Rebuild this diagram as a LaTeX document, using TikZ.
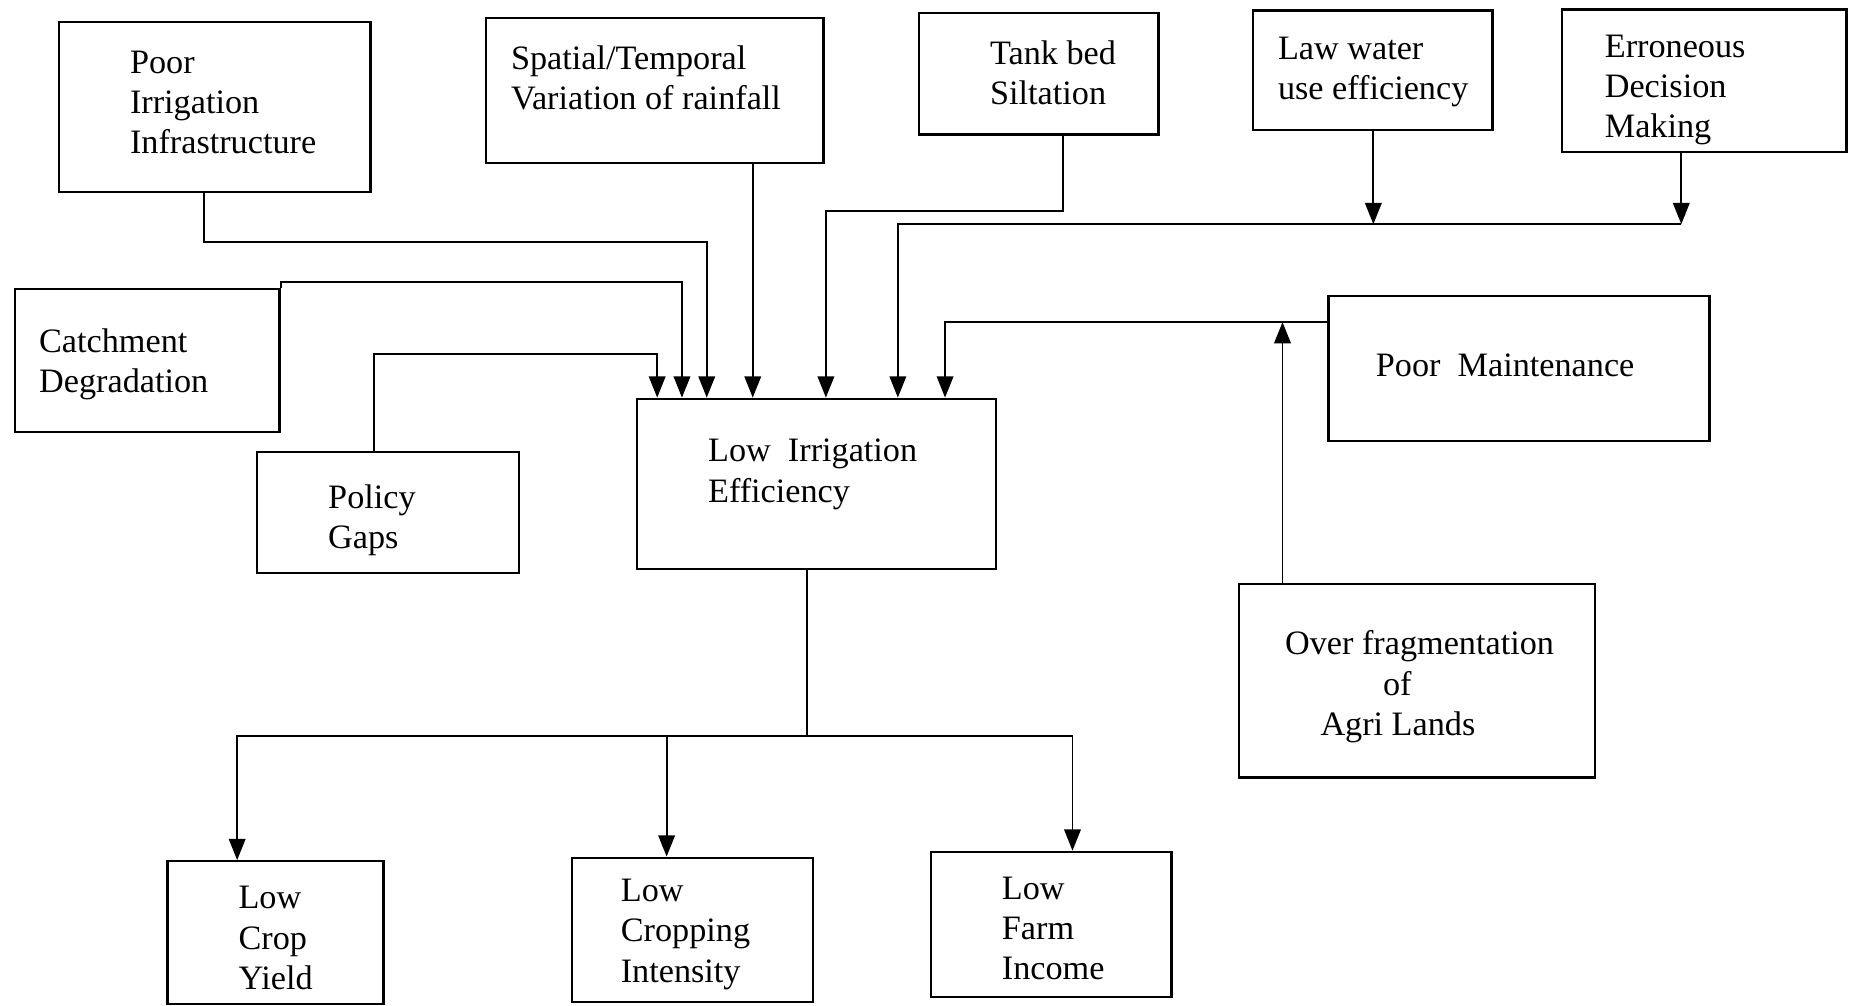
\documentclass[tikz,border=0pt]{standalone}
\usepackage{fontspec}
\setmainfont{Liberation Serif}
\usetikzlibrary{arrows.meta}
\begin{document}
\begin{tikzpicture}[x=1pt,y=-1pt,
 box/.style={draw, line width=1.9pt, inner sep=0pt, anchor=north west},
 txt/.style={inner sep=0pt, anchor=west, align=left, font=\fontsize{29}{34}\selectfont},
 conn/.style={line width=1.6pt},
 arr/.style={conn, -{Triangle[length=18pt,width=14pt]}}]
\useasboundingbox (0,0) rectangle (1568,852);
% boxes
\node[box, minimum width=264pt, minimum height=144pt] (poor) at (49,18) {};
\node[box, minimum width=286pt, minimum height=123pt] (spat) at (411,14) {};
\node[box, minimum width=203pt, minimum height=103pt] (tank) at (778,10) {};
\node[box, minimum width=203pt, minimum height=101pt] (law) at (1061,8) {};
\node[box, minimum width=241pt, minimum height=121pt] (err) at (1323,7) {};
\node[box, minimum width=224pt, minimum height=121pt] (cat) at (12,244) {};
\node[box, minimum width=222pt, minimum height=103pt] (pol) at (217,382) {};
\node[box, minimum width=304pt, minimum height=144pt] (lie) at (539,337) {};
\node[box, minimum width=323pt, minimum height=123pt] (pm) at (1125,250) {};
\node[box, minimum width=302pt, minimum height=164pt] (ofr) at (1049,494) {};
\node[box, minimum width=183pt, minimum height=121pt] (lcy) at (141,729) {};
\node[box, minimum width=204pt, minimum height=122pt] (lci) at (484,726) {};
\node[box, minimum width=204pt, minimum height=123pt] (lfi) at (788,721) {};
% texts
\node[txt] (tpoor) at (110,87) {Poor\\Irrigation\\Infrastructure};
\node[txt] (tspat) at (433,66) {Spatial/Temporal\\Variation of rainfall};
\node[txt] (ttank) at (839,62) {Tank bed\\Siltation};
\node[txt] (tlaw) at (1083,61) {Law water\\use efficiency};
\node[txt] (terr) at (1360,76) {Erroneous\\Decision\\Making};
\node[txt] (tcat) at (33,309) {Catchment\\Degradation};
\node[txt] (tpol) at (278,441) {Policy\\Gaps};
\node[txt] (tlie) at (600,402) {Low\ \ Irrigation\\Efficiency};
\node[txt] (tpm) at (1166,310) {Poor\ \ Maintenance};
\node[txt] (tofr) at (1089,582) {Over fragmentation\\\hspace*{83pt}of\\\hspace*{30pt}Agri Lands};
\node[txt] (tlcy) at (202,795) {Low\\Crop\\Yield};
\node[txt] (tlci) at (526,792) {Low\\Cropping\\Intensity};
\node[txt] (tlfi) at (849,787) {Low\\Farm\\Income};
% connectors into Low Irrigation Efficiency
\draw[arr] ([xshift=124pt]poor.south west) -- ++(0,41) -| ([xshift=60pt]lie.north west);
\draw[arr] (cat.north east) -- ++(0,-5) -| ([xshift=39pt]lie.north west);
\draw[arr] ([xshift=100pt]pol.north west) -- ++(0,-82) -| ([xshift=18pt]lie.north west);
\draw[arr] ([xshift=227pt]spat.south west) -- ([xshift=99pt]lie.north west);
\draw[arr] ([xshift=123pt]tank.south west) -- ++(0,64) -| ([xshift=161pt]lie.north west);
\coordinate (lawb) at ([xshift=103pt]law.south west);
\coordinate (errb) at ([xshift=102pt]err.south west);
\coordinate (jr) at (1425,190);
\draw[arr] (errb) -- (errb |- jr);
\draw[arr] (lawb) -- (lawb |- jr);
\draw[arr] (errb |- jr) -| ([xshift=222pt]lie.north west);
\coordinate (pmj) at ([yshift=-23pt]pm.north west);
\draw[arr] (pmj) -| ([xshift=262pt]lie.north west);
\coordinate (ofrt) at ([xshift=38pt]ofr.north west);
\draw[arr] (ofrt) -- (ofrt |- pmj);
% outputs
\coordinate (lieb) at ([xshift=145pt]lie.south west);
\draw[conn] (lieb) -- ++(0,141) coordinate (sp);
\draw[arr] (sp) -| ([xshift=60pt]lcy.north west);
\draw[arr] (sp) -| ([xshift=121pt]lfi.north west);
\coordinate (lcit) at ([xshift=81pt]lci.north west);
\draw[arr] (sp -| lcit) -- (lcit);
\end{tikzpicture}
\end{document}
